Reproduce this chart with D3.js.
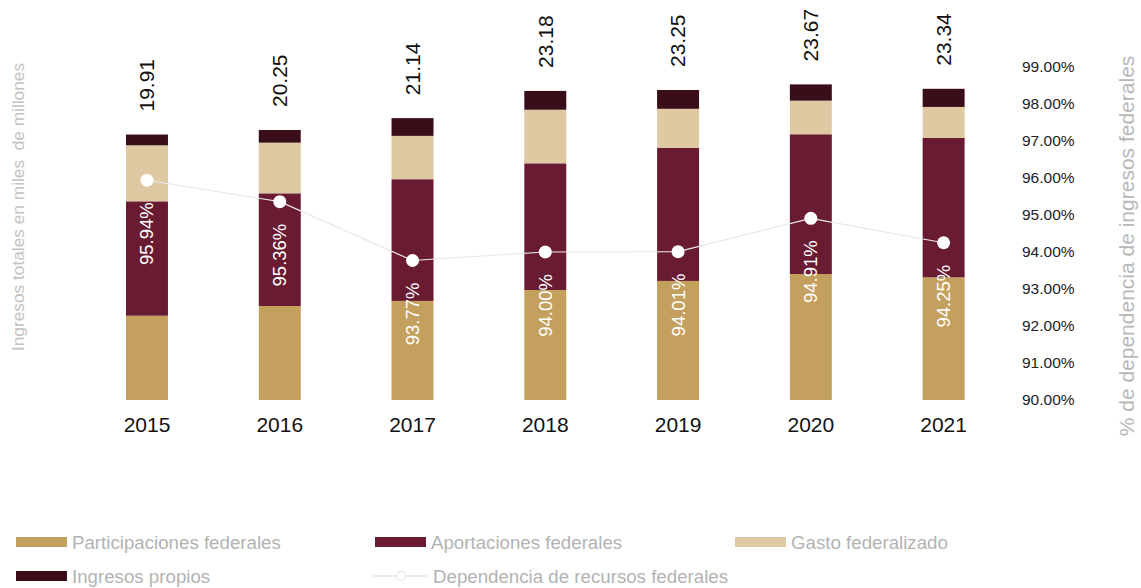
<!DOCTYPE html>
<html>
<head>
<meta charset="utf-8">
<script src="https://cdn.jsdelivr.net/npm/d3@7"></script>
<style>
  html, body { margin: 0; padding: 0; background: #fff; }
  svg { display: block; font-family: "Liberation Sans", Arial, sans-serif; }
</style>
</head>
<body>
<svg id="chart" width="1141" height="588"></svg>
<script>
// ---- Data ----
const years = ["2015", "2016", "2017", "2018", "2019", "2020", "2021"];
const participaciones = [6.32, 7.05, 7.43, 8.25, 8.93, 9.45, 9.20];
const aportaciones   = [8.58, 8.45, 9.13, 9.50, 9.98, 10.48, 10.45];
const gasto          = [4.20, 3.80, 3.25, 4.02, 2.93, 2.52, 2.33];
const propios        = [0.81, 0.95, 1.33, 1.41, 1.41, 1.22, 1.36];
const totals         = [19.91, 20.25, 21.14, 23.18, 23.25, 23.67, 23.34];
const dependencia    = [95.94, 95.36, 93.77, 94.00, 94.01, 94.91, 94.25];
const rightTicks     = [90, 91, 92, 93, 94, 95, 96, 97, 98, 99];
const seriesNames    = ["Participaciones federales", "Aportaciones federales", "Gasto federalizado", "Ingresos propios"];
const lineName       = "Dependencia de recursos federales";
const leftTitle      = "Ingresos totales en miles  de millones";
const rightTitle     = "% de dependencia de ingresos federales";
const colors         = ["#c4a05e", "#691b32", "#dec9a3", "#3a0e19"];

// ---- Layout ----
const svg = d3.select("#chart");
const baseY = 400;

const x = d3.scaleBand().domain(years).range([80.6, 1010]).paddingInner(0.684).paddingOuter(0.342);
const yL = d3.scaleLinear().domain([0, 30]).range([baseY, 0]);
const yR = d3.scaleLinear().domain([90, 100]).range([baseY, 30]);

// stacked data
const rows = years.map((yr, i) => ({
  year: yr,
  p: participaciones[i], a: aportaciones[i], g: gasto[i], o: propios[i]
}));
const stack = d3.stack().keys(["p", "a", "g", "o"]);
const stacked = stack(rows);

// bars
const gBars = svg.append("g");
stacked.forEach((layer, li) => {
  gBars.selectAll(null).data(layer).enter().append("rect")
    .attr("x", d => x(d.data.year))
    .attr("width", x.bandwidth())
    .attr("y", d => yL(d[1]))
    .attr("height", d => yL(d[0]) - yL(d[1]))
    .attr("fill", colors[li]);
});

// total labels (rotated)
svg.append("g").selectAll("text").data(years).enter().append("text")
  .attr("transform", (d, i) => {
    const cx = x(d) + x.bandwidth() / 2;
    const cy = yL(totals[i]) - 23;
    return `translate(${cx},${cy}) rotate(-90)`;
  })
  .attr("dy", "0.35em")
  .attr("text-anchor", "start")
  .attr("font-size", 21)
  .attr("fill", "#111")
  .text((d, i) => totals[i].toFixed(2));

// x axis
const xAxis = svg.append("g").attr("transform", `translate(0,${baseY})`)
  .call(d3.axisBottom(x).tickSize(0).tickPadding(17));
xAxis.select(".domain").remove();
xAxis.selectAll("text").attr("font-size", 21).attr("fill", "#111")
  .attr("font-family", "\"Liberation Sans\", Arial, sans-serif");

// right axis
const rAxis = svg.append("g").attr("transform", `translate(1016,0)`)
  .call(d3.axisRight(yR).tickValues(rightTicks).tickSize(0).tickPadding(6)
    .tickFormat(d => d.toFixed(2) + "%"));
rAxis.select(".domain").remove();
rAxis.selectAll("text").attr("font-size", 15.5).attr("fill", "#222")
  .attr("font-family", "\"Liberation Sans\", Arial, sans-serif");

// axis titles
svg.append("text")
  .attr("transform", `translate(18,207) rotate(-90)`)
  .attr("text-anchor", "middle").attr("dy", "0.35em")
  .attr("font-size", 17.3).attr("fill", "#c2c2c2")
  .style("white-space", "pre")
  .text(leftTitle);
svg.append("text")
  .attr("transform", `translate(1127,246) rotate(-90)`)
  .attr("text-anchor", "middle").attr("dy", "0.35em")
  .attr("font-size", 21).attr("fill", "#b8b8b8")
  .text(rightTitle);

// dependency line
const line = d3.line()
  .x((d, i) => x(years[i]) + x.bandwidth() / 2)
  .y(d => yR(d));
svg.append("path").datum(dependencia)
  .attr("d", line).attr("fill", "none")
  .attr("stroke", "#e8e8e8").attr("stroke-width", 1.2);
svg.append("g").selectAll("circle").data(dependencia).enter().append("circle")
  .attr("cx", (d, i) => x(years[i]) + x.bandwidth() / 2)
  .attr("cy", d => yR(d))
  .attr("r", 6.5)
  .attr("fill", "#fff");

// percentage labels
svg.append("g").selectAll("text").data(dependencia).enter().append("text")
  .attr("transform", (d, i) => {
    const cx = x(years[i]) + x.bandwidth() / 2;
    const cy = yR(d) + 22;
    return `translate(${cx},${cy}) rotate(-90)`;
  })
  .attr("dy", "0.35em")
  .attr("text-anchor", "end")
  .attr("font-size", 18.5)
  .attr("fill", "#fff")
  .text(d => d.toFixed(2) + "%");

// legend
const legend = svg.append("g");
const legItems = [
  { name: seriesNames[0], type: "rect", color: colors[0], x: 16, y: 542 },
  { name: seriesNames[1], type: "rect", color: colors[1], x: 375, y: 542 },
  { name: seriesNames[2], type: "rect", color: colors[2], x: 735, y: 542 },
  { name: seriesNames[3], type: "rect", color: colors[3], x: 16, y: 576 },
  { name: lineName, type: "line", color: "#e6e6e6", x: 375, y: 576 }
];
legItems.forEach(it => {
  const g = legend.append("g").attr("transform", `translate(${it.x},${it.y})`);
  if (it.type === "rect") {
    g.append("rect").attr("x", 0).attr("y", -5).attr("width", 51).attr("height", 10).attr("fill", it.color);
  } else {
    g.append("line").attr("x1", -2).attr("x2", 52).attr("y1", 0).attr("y2", 0)
      .attr("stroke", it.color).attr("stroke-width", 1.5);
    g.append("circle").attr("cx", 26).attr("cy", 0).attr("r", 4.5)
      .attr("fill", "#fff").attr("stroke", it.color).attr("stroke-width", 1.2);
  }
  g.append("text").attr("x", it.type === "rect" ? 56 : 58).attr("y", 0).attr("dy", "0.35em")
    .attr("font-size", 18.7).attr("fill", "#b3b3b3")
    .text(it.name);
});
</script>
</body>
</html>
